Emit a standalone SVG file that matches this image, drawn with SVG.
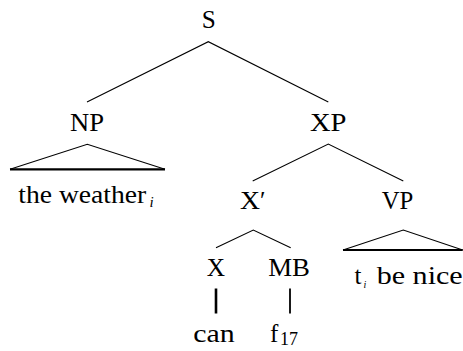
<svg xmlns="http://www.w3.org/2000/svg" width="463" height="351" viewBox="0 0 463 351">
<style>
.t{font-size:25px;fill:#000;font-family:"Liberation Serif","DejaVu Serif",serif}
.c{text-anchor:middle}
.sub{font-size:15px}
.l{stroke:#000;stroke-width:1.1;fill:none}
.b{stroke:#000;stroke-width:2.2;fill:none}
</style>
<rect width="463" height="351" fill="#fff"/>
<g id="connectors">
<path class="l" d="M87,102 L208.3,41.7 L328.3,102"/>
<path class="l" d="M252.7,181 L328.3,144 L403.3,181"/>
<path class="l" d="M216,247.7 L253.3,230 L290.7,247.7"/>
<path class="l" d="M10,169.3 L87.3,144.3 L165,169.3"/>
<path class="b" d="M10,169.3 H165"/>
<path class="l" d="M343,250 L403.3,230 L462.7,250"/>
<path class="b" d="M343,250 H462.7"/>
<path d="M216,288.5 V313.5" stroke="#000" stroke-width="2.6"/>
<path d="M290,288.5 V313.5" stroke="#000" stroke-width="1.8"/>
</g>
<g class="t">
<g id="S"><text class="c" x="208.7" y="28" textLength="14" lengthAdjust="spacingAndGlyphs">S</text></g>
<g id="NP"><text x="70" y="131" textLength="34" lengthAdjust="spacingAndGlyphs">NP</text></g>
<g id="XP"><text x="310" y="131" textLength="36.5" lengthAdjust="spacingAndGlyphs">XP</text></g>
<g id="the_weather"><text x="18.3" y="203.3" textLength="128" lengthAdjust="spacingAndGlyphs">the weather</text><text x="149.5" y="206.5" class="sub" font-style="italic">i</text></g>
<g id="Xbar"><text x="240" y="209.3" textLength="20" lengthAdjust="spacingAndGlyphs">X</text><text x="260" y="209.3">′</text></g>
<g id="VP"><text x="381.7" y="209.3" textLength="31.6" lengthAdjust="spacingAndGlyphs">VP</text></g>
<g id="X"><text x="206.7" y="276" textLength="18.3" lengthAdjust="spacingAndGlyphs">X</text></g>
<g id="MB"><text x="268.3" y="276" textLength="41.7" lengthAdjust="spacingAndGlyphs">MB</text></g>
<g id="t_be_nice"><text x="354.5" y="284">t</text><text x="363.5" y="287.5" font-size="10px" font-style="italic">i</text><text x="376.7" y="284" textLength="86" lengthAdjust="spacingAndGlyphs">be nice</text></g>
<g id="can"><text x="193.3" y="341.5" textLength="41.5" lengthAdjust="spacingAndGlyphs">can</text></g>
<g id="f17"><text x="270" y="341.5">f</text><text x="280" y="345" font-size="18px">17</text></g>
</g>
</svg>
